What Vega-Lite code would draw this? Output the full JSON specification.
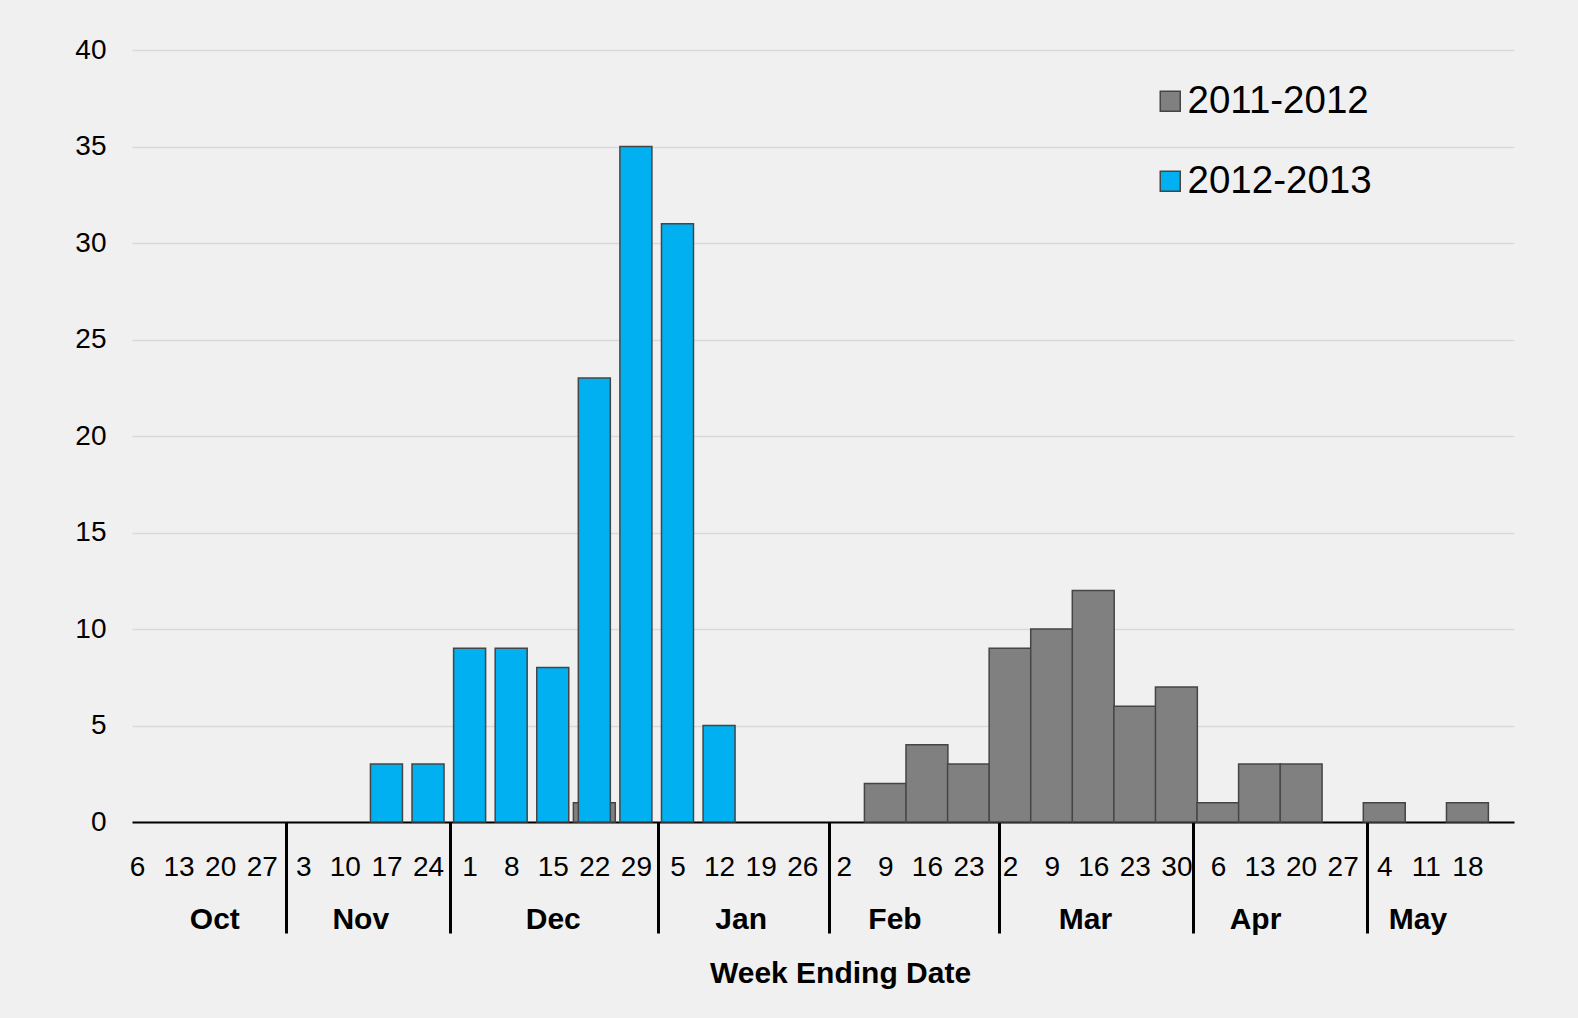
{
  "$schema": "https://vega.github.io/schema/vega-lite/v6.json",
  "width": 1382,
  "height": 772,
  "autosize": {"type": "none"},
  "padding": {"left": 132, "top": 50, "right": 64, "bottom": 196},
  "background": "#f0f0f0",
  "config": {
    "view": {"stroke": null},
    "font": "Liberation Sans",
    "axis": {"labelFont": "Liberation Sans", "titleFont": "Liberation Sans", "labelColor": "#000", "titleColor": "#000"}
  },
  "data": {
    "values": [
      {"week": "Dec 22", "idx": 11, "season": "2011-2012", "count": 1},
      {"week": "Feb 9", "idx": 18, "season": "2011-2012", "count": 2},
      {"week": "Feb 16", "idx": 19, "season": "2011-2012", "count": 4},
      {"week": "Feb 23", "idx": 20, "season": "2011-2012", "count": 3},
      {"week": "Mar 2", "idx": 21, "season": "2011-2012", "count": 9},
      {"week": "Mar 9", "idx": 22, "season": "2011-2012", "count": 10},
      {"week": "Mar 16", "idx": 23, "season": "2011-2012", "count": 12},
      {"week": "Mar 23", "idx": 24, "season": "2011-2012", "count": 6},
      {"week": "Mar 30", "idx": 25, "season": "2011-2012", "count": 7},
      {"week": "Apr 6", "idx": 26, "season": "2011-2012", "count": 1},
      {"week": "Apr 13", "idx": 27, "season": "2011-2012", "count": 3},
      {"week": "Apr 20", "idx": 28, "season": "2011-2012", "count": 3},
      {"week": "May 4", "idx": 30, "season": "2011-2012", "count": 1},
      {"week": "May 18", "idx": 32, "season": "2011-2012", "count": 1},
      {"week": "Nov 17", "idx": 6, "season": "2012-2013", "count": 3},
      {"week": "Nov 24", "idx": 7, "season": "2012-2013", "count": 3},
      {"week": "Dec 1", "idx": 8, "season": "2012-2013", "count": 9},
      {"week": "Dec 8", "idx": 9, "season": "2012-2013", "count": 9},
      {"week": "Dec 15", "idx": 10, "season": "2012-2013", "count": 8},
      {"week": "Dec 22", "idx": 11, "season": "2012-2013", "count": 23},
      {"week": "Dec 29", "idx": 12, "season": "2012-2013", "count": 35},
      {"week": "Jan 5", "idx": 13, "season": "2012-2013", "count": 31},
      {"week": "Jan 12", "idx": 14, "season": "2012-2013", "count": 5}
    ]
  },
  "resolve": {"axis": {"x": "independent"}},
  "layer": [
    {
      "transform": [{"filter": "datum.season === '2011-2012'"}],
      "mark": {"type": "bar", "size": 41.9, "stroke": "#454545", "strokeWidth": 1.5},
      "encoding": {
        "x": {
          "field": "idx", "type": "quantitative",
          "scale": {"domain": [0, 33], "nice": false, "zero": false},
          "axis": {
            "orient": "bottom",
            "values": [0,1,2,3,4,5,6,7,8,9,10,11,12,13,14,15,16,17,18,19,20,21,22,23,24,25,26,27,28,29,30,31,32],
            "labelExpr": "['6','13','20','27','3','10','17','24','1','8','15','22','29','5','12','19','26','2','9','16','23','2','9','16','23','30','6','13','20','27','4','11','18'][datum.value]",
            "labelFontSize": 28, "labelPadding": 31, "labelFlush": false, "labelOverlap": false,
            "ticks": false, "tickSize": 0, "grid": false,
            "domain": true, "domainColor": "#000", "domainWidth": 2,
            "title": null
          }
        },
        "y": {
          "field": "count", "type": "quantitative",
          "scale": {"domain": [0, 40], "nice": false},
          "axis": {
            "values": [0,5,10,15,20,25,30,35,40],
            "labelFontSize": 28, "labelPadding": 26, "ticks": false, "tickSize": 0,
            "domain": false, "grid": true, "gridColor": "#d9d9d9", "gridWidth": 1.5,
            "title": null
          }
        },
        "color": {
          "field": "season", "type": "nominal",
          "scale": {"domain": ["2011-2012", "2012-2013"], "range": ["#808080", "#00b0f0"]},
          "legend": {
            "title": null, "orient": "none", "legendX": 1019, "legendY": 32,
            "symbolType": "square", "symbolSize": 400, "symbolStrokeColor": "#555", "symbolStrokeWidth": 1.5,
            "labelFontSize": 38.5, "labelColor": "#000", "labelFont": "Liberation Sans", "labelOffset": -2,
            "rowPadding": 41, "labelLimit": 400
          }
        }
      }
    },
    {
      "transform": [{"filter": "datum.season === '2012-2013'"}],
      "mark": {"type": "bar", "size": 32, "stroke": "#454545", "strokeWidth": 1.5},
      "encoding": {
        "x": {
          "field": "idx", "type": "quantitative",
          "scale": {"domain": [0, 33], "nice": false, "zero": false},
          "axis": {
            "orient": "bottom",
            "values": [3.58, 7.52, 12.54, 16.65, 20.74, 25.39, 29.58],
            "labels": false, "ticks": true, "tickSize": 111, "tickWidth": 3, "tickColor": "#000",
            "domain": false, "grid": false, "title": null
          }
        },
        "y": {"field": "count", "type": "quantitative"},
        "color": {"field": "season", "type": "nominal"}
      }
    },
    {
      "mark": {"type": "tick", "opacity": 0},
      "encoding": {
        "x": {
          "field": "idx", "type": "quantitative",
          "scale": {"domain": [0, 33], "nice": false, "zero": false},
          "axis": {
            "orient": "bottom",
            "values": [1.86, 5.37, 10.0, 14.52, 18.22, 22.8, 26.89, 30.8],
            "labelExpr": "datum.value < 3.5 ? 'Oct' : datum.value < 7.5 ? 'Nov' : datum.value < 12.5 ? 'Dec' : datum.value < 16.5 ? 'Jan' : datum.value < 20.5 ? 'Feb' : datum.value < 25.5 ? 'Mar' : datum.value < 29.5 ? 'Apr' : 'May'",
            "labelFontSize": 30, "labelFontWeight": "bold", "labelPadding": 82,
            "labelFlush": false, "labelOverlap": false,
            "ticks": false, "tickSize": 0, "domain": false, "grid": false,
            "title": "Week Ending Date", "titleFontSize": 30, "titleFontWeight": "bold",
            "titlePadding": 24, "titleX": 708, "titleAnchor": "middle"
          }
        }
      }
    }
  ]
}
